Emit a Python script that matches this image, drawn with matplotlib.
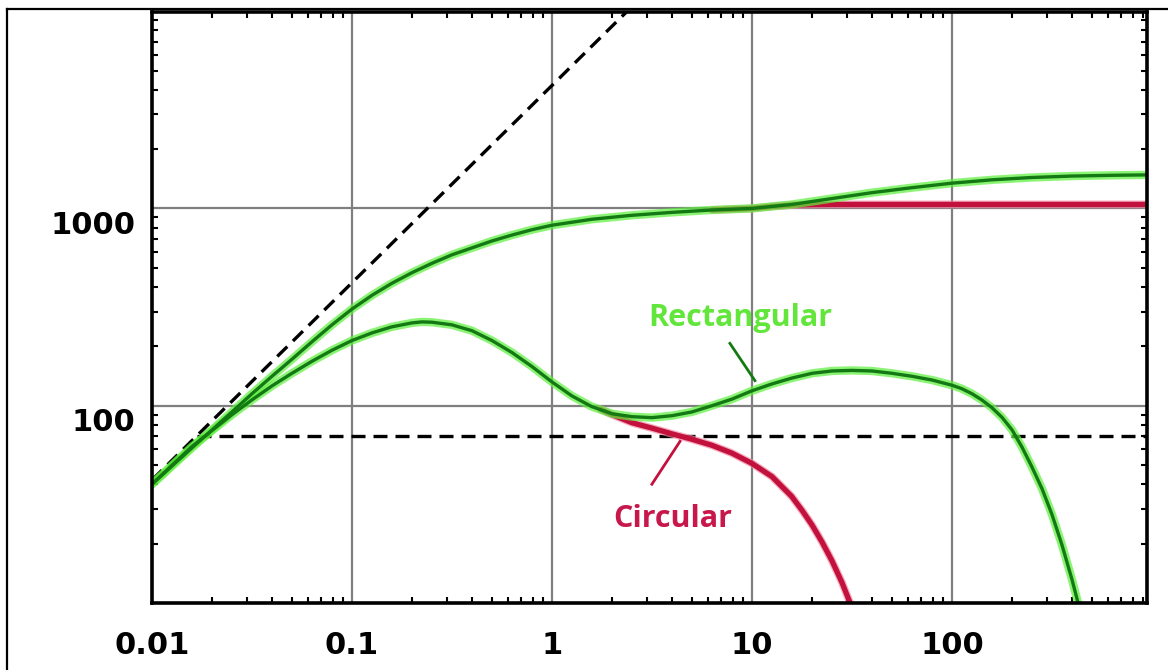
import matplotlib
matplotlib.use("Agg")
import matplotlib.pyplot as plt
from matplotlib.lines import Line2D
from matplotlib.ticker import LogLocator, FixedLocator, FixedFormatter, NullFormatter
from matplotlib.transforms import ScaledTranslation
import numpy as np

# ---- data -----------------------------------------------------------------
upper_green_x = [0.01, 0.0126, 0.0158, 0.02, 0.0251, 0.0316, 0.0398, 0.0501, 0.0631,
                 0.0794, 0.1, 0.126, 0.158, 0.2, 0.251, 0.316, 0.398, 0.501, 0.631,
                 0.794, 1, 1.58, 2.51, 3.98, 6.31, 10, 15.8, 25.1, 39.8, 63.1, 100,
                 158, 251, 398, 631, 945]
upper_green_y = [40, 49.5, 61, 75.5, 93, 115, 141, 172, 211,
                 257, 309, 363, 417, 473, 527, 582, 631, 684, 733,
                 780, 822, 881, 923, 955, 982, 1000, 1047, 1122, 1202, 1274, 1343,
                 1396, 1435, 1459, 1472, 1479]

upper_red_x = [6.31, 10, 12.6, 15.8, 20, 25, 945]
upper_red_y = [982, 1000, 1023, 1040, 1046, 1048, 1048]

lower_green_x = [0.01, 0.0126, 0.0158, 0.02, 0.0251, 0.0316, 0.0398, 0.0501, 0.0631,
                 0.0794, 0.1, 0.126, 0.158, 0.2, 0.224, 0.251, 0.316, 0.398, 0.501,
                 0.631, 0.794, 1, 1.26, 1.58, 2.0, 2.51, 3.16, 3.98, 5.01, 6.31, 7.94,
                 10, 12.6, 15.8, 20, 25.1, 31.6, 39.8, 50.1, 63.1, 79.4, 100, 112,
                 126, 141, 158, 178, 200, 224, 251, 282, 316, 355, 398, 447]
lower_green_y = [40, 50, 62, 75, 90, 107, 126, 146, 168,
                 191, 214, 234, 251, 263, 266, 265, 257, 240, 214,
                 186, 158, 132, 112, 99, 91, 88, 87, 89, 93, 100, 108,
                 119, 129, 138, 146, 150, 151, 150, 146, 141, 135, 127, 122,
                 115, 107, 98, 87.3, 75.3, 61.7, 49, 38, 28.2, 19.7, 13.2, 8.4]

lower_red_x = [1.75, 2.0, 2.51, 3.16, 3.98, 5.01, 6.31, 7.94, 10, 12.6, 15.8,
               17.8, 20, 22.4, 25.1, 28.2, 31.6]
lower_red_y = [96, 90, 82, 77, 72, 67.6, 63, 57.5, 51, 43.7, 34.7,
               29.5, 24.8, 20.4, 16.4, 12.7, 9.5]

# asymptotes: y = k * x, and the horizontal level
slope_k = 4200
level_y = 70.5

x_ticks = [0.01, 0.1, 1, 10, 100]
x_tick_labels = ["0.01", "0.1", "1", "10", "100"]
y_ticks = [100, 1000]
y_tick_labels = ["100", "1000"]

x_lim = (0.01, 945)
y_lim = (10, 9900)

# ---- style ----------------------------------------------------------------
GREEN_CORE = "#137a13"
GREEN_GLOW = "#5cf03a"
RED_CORE = "#c2113d"
RED_GLOW = "#f48aa6"
GREEN_TEXT = "#62e63c"
RED_TEXT = "#c8174a"
DASH = (0, (4.2, 2.4))

fig = plt.figure(figsize=(11.68, 6.70), dpi=100)
ax = fig.add_axes([152 / 1168, 1 - 603 / 670, (1147 - 152) / 1168, (603 - 12) / 670])
ax.set_xscale("log")
ax.set_yscale("log")
ax.set_xlim(*x_lim)
ax.set_ylim(*y_lim)

ax.grid(True, which="major", color="#7f7f7f", linewidth=1.6, zorder=1)
ax.set_axisbelow(True)

# dashed asymptotes
xd = np.array([x_lim[0], y_lim[1] / slope_k])
ax.plot(xd, slope_k * xd, color="black", lw=2.4, ls=DASH, zorder=3)
x_cross = level_y / slope_k
ax.plot([x_cross, x_lim[1]], [level_y, level_y], color="black", lw=2.4,
        ls=DASH, zorder=3)


def glow_line(x, y, core, glow, core_w, glow_w, z):
    ax.plot(x, y, color=glow, lw=glow_w, alpha=0.7, solid_capstyle="round",
            solid_joinstyle="round", zorder=z)
    ax.plot(x, y, color=core, lw=core_w, solid_capstyle="round",
            solid_joinstyle="round", zorder=z + 0.5)


glow_line(upper_red_x, upper_red_y, RED_CORE, RED_GLOW, 3.8, 5.6, 4)
glow_line(lower_red_x, lower_red_y, RED_CORE, RED_GLOW, 3.8, 5.6, 4)
glow_line(upper_green_x, upper_green_y, GREEN_CORE, GREEN_GLOW, 2.4, 6.0, 5)
glow_line(lower_green_x, lower_green_y, GREEN_CORE, GREEN_GLOW, 2.4, 6.0, 5)

# labels with leader lines
ax.text(8.7, 277, "Rectangular", color=GREEN_TEXT, fontsize=22, fontweight="bold",
        family="Open Sans", ha="center", va="center", zorder=6)
ax.plot([7.76, 10.35], [207, 134], color=GREEN_CORE, lw=2.0, zorder=6)
ax.text(4.03, 26.7, "Circular", color=RED_TEXT, fontsize=22, fontweight="bold",
        family="Open Sans", ha="center", va="center", zorder=6)
ax.plot([3.16, 4.37], [40, 66], color=RED_CORE, lw=2.0, zorder=6)

# ticks
ax.xaxis.set_major_locator(FixedLocator(x_ticks))
ax.xaxis.set_major_formatter(FixedFormatter(x_tick_labels))
ax.yaxis.set_major_locator(FixedLocator(y_ticks))
ax.yaxis.set_major_formatter(FixedFormatter(y_tick_labels))
ax.xaxis.set_minor_locator(LogLocator(base=10, subs=np.arange(2, 10), numticks=20))
ax.yaxis.set_minor_locator(LogLocator(base=10, subs=np.arange(2, 10), numticks=20))
ax.xaxis.set_minor_formatter(NullFormatter())
ax.yaxis.set_minor_formatter(NullFormatter())
ax.tick_params(which="major", length=0, labelsize=22)
ax.tick_params(which="minor", direction="in", length=4, width=1.5,
               top=True, right=True, color="black")
for lab in ax.get_xticklabels() + ax.get_yticklabels():
    lab.set_fontweight("bold")
    lab.set_family("DejaVu Sans")
ax.tick_params(axis="y", pad=12)
ax.tick_params(axis="x", pad=20)
shift = ScaledTranslation(0, -0.14, fig.dpi_scale_trans)
for lab in ax.get_yticklabels():
    lab.set_transform(lab.get_transform() + shift)

for sp in ax.spines.values():
    sp.set_linewidth(2.6)
    sp.set_color("black")
    sp.set_zorder(7)

# frame lines along the left and top of the figure
fig.add_artist(Line2D([6.5 / 1168, 6.5 / 1168], [0, 1 - 8.5 / 670], color="black",
                      lw=1.6, transform=fig.transFigure))
fig.add_artist(Line2D([6.5 / 1168, 1], [1 - 8.5 / 670, 1 - 8.5 / 670], color="black",
                      lw=1.6, transform=fig.transFigure))

fig.savefig("out.png", dpi=100)
